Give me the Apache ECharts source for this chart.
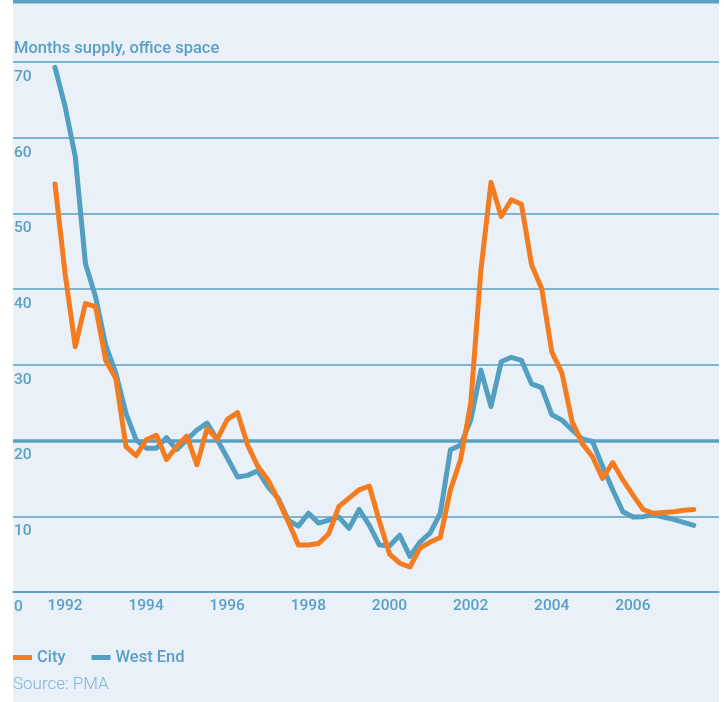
<!DOCTYPE html>
<html>

<head>
  <meta charset="utf-8">
  <title>Months supply, office space</title>
  <script src="https://cdn.jsdelivr.net/npm/echarts@6/dist/echarts.min.js"></script>
  <style>
    body { margin: 0; background: #fff; }
  </style>
</head>

<body>
  <div id="main" style="width: 724px;height:702px;"></div>
  <script type="text/javascript">
    // quarterly data, 1992 Q1 to 2007 Q4
    var startYear = 1992;
    var yearTicks = [1992, 1994, 1996, 1998, 2000, 2002, 2004, 2006];
    var yTicks = [0, 10, 20, 30, 40, 50, 60, 70];

    var city = [
      53.9, 42.0, 32.4, 38.1, 37.7, 30.6, 28.2, 19.2,
      18.0, 20.1, 20.7, 17.5, 19.2, 20.6, 16.8, 21.6,
      20.2, 22.8, 23.7, 19.4, 16.6, 14.8, 12.2, 9.3,
      6.2, 6.2, 6.4, 7.7, 11.3, 12.4, 13.5, 14.0,
      9.3, 5.0, 3.8, 3.3, 5.8, 6.6, 7.2, 13.5,
      17.5, 24.9, 42.5, 54.1, 49.6, 51.8, 51.2, 43.2,
      40.1, 31.7, 28.9, 22.5, 19.6, 17.9, 15.0, 17.1,
      14.8, 12.8, 10.9, 10.4, 10.5, 10.6, 10.8, 10.9
    ];
    var westEnd = [
      69.3, 64.1, 57.5, 43.4, 39.0, 32.6, 28.9, 23.6,
      20.1, 19.0, 19.0, 20.4, 18.8, 20.1, 21.4, 22.3,
      20.1, 17.7, 15.2, 15.4, 16.0, 13.9, 12.4, 9.5,
      8.7, 10.4, 9.1, 9.5, 9.9, 8.4, 10.9, 8.8,
      6.2, 6.1, 7.5, 4.7, 6.6, 7.8, 10.4, 18.8,
      19.4, 22.7, 29.3, 24.5, 30.4, 31.0, 30.6, 27.5,
      27.0, 23.4, 22.7, 21.4, 20.2, 19.9, 16.6, 13.5,
      10.6, 9.9, 9.95, 10.2, 9.9, 9.6, 9.2, 8.8
    ];

    var blue = '#529fc2';
    var orange = '#f47c20';
    var textBlue = '#5a9fc4';

    function pairs(vals) {
      return vals.map(function (v, i) { return [startYear + i / 4, v]; });
    }

    var myChart = echarts.init(document.getElementById('main'));

    var option = {
      backgroundColor: '#fff',
      animation: false,
      textStyle: { fontFamily: 'Roboto' },
      graphic: [
        { type: 'rect', z: -10, shape: { x: 13, y: 0, width: 706, height: 702 }, style: { fill: '#e9f0f7' } },
        { type: 'rect', z: 10, shape: { x: 13, y: 0, width: 706, height: 3.5 }, style: { fill: textBlue } },
        {
          type: 'text', left: 14, top: 40,
          style: { text: 'Months supply, office space', fill: textBlue, font: '500 16.5px Roboto' }
        },
        {
          type: 'text', left: 13, top: 676,
          style: { text: 'Source: PMA', fill: '#7db5d3', font: '300 17px Roboto' }
        }
      ],
      legend: {
        left: 13,
        top: 649,
        padding: 0,
        icon: 'rect',
        itemWidth: 19,
        itemHeight: 5,
        itemGap: 26,
        textStyle: { color: textBlue, fontSize: 16.5, fontWeight: 500, fontFamily: 'Roboto' },
        data: ['City', 'West End']
      },
      grid: { left: 13, right: 5, top: 62, bottom: 110, containLabel: false },
      xAxis: {
        type: 'value',
        min: 1990.9645,
        max: 2008.371,
        splitLine: { show: false },
        axisTick: { show: false },
        axisLine: { show: true, lineStyle: { color: textBlue, width: 1.5 } },
        axisLabel: {
          customValues: yearTicks,
          color: textBlue,
          fontSize: 15.5,
          fontWeight: 500,
          margin: 6,
          padding: [0, 0, 0, 20],
          formatter: function (v) { return String(v); }
        }
      },
      yAxis: {
        type: 'value',
        min: 0,
        max: 70,
        interval: 10,
        axisLine: { show: false },
        axisTick: { show: false },
        splitLine: { show: true, lineStyle: { color: textBlue, width: 1.5 } },
        axisLabel: {
          inside: true,
          align: 'left',
          verticalAlign: 'top',
          margin: 1,
          padding: [7, 0, 0, 0],
          color: textBlue,
          fontSize: 15.5,
          fontWeight: 500,
          formatter: function (v) { return yTicks.indexOf(v) >= 0 ? String(v) : ''; }
        }
      },
      series: [
        {
          name: 'City',
          type: 'line',
          data: pairs(city),
          showSymbol: false,
          color: orange,
          lineStyle: { width: 5, color: orange, cap: 'round', join: 'round' },
          z: 3,
          markLine: {
            silent: true,
            symbol: 'none',
            label: { show: false },
            lineStyle: { color: textBlue, width: 3.5, type: 'solid' },
            data: [{ yAxis: 20 }],
            z: 1
          }
        },
        {
          name: 'West End',
          type: 'line',
          data: pairs(westEnd),
          showSymbol: false,
          color: blue,
          lineStyle: { width: 5, color: blue, cap: 'round', join: 'round' },
          z: 2
        }
      ]
    };

    myChart.setOption(option);
  </script>
</body>

</html>
